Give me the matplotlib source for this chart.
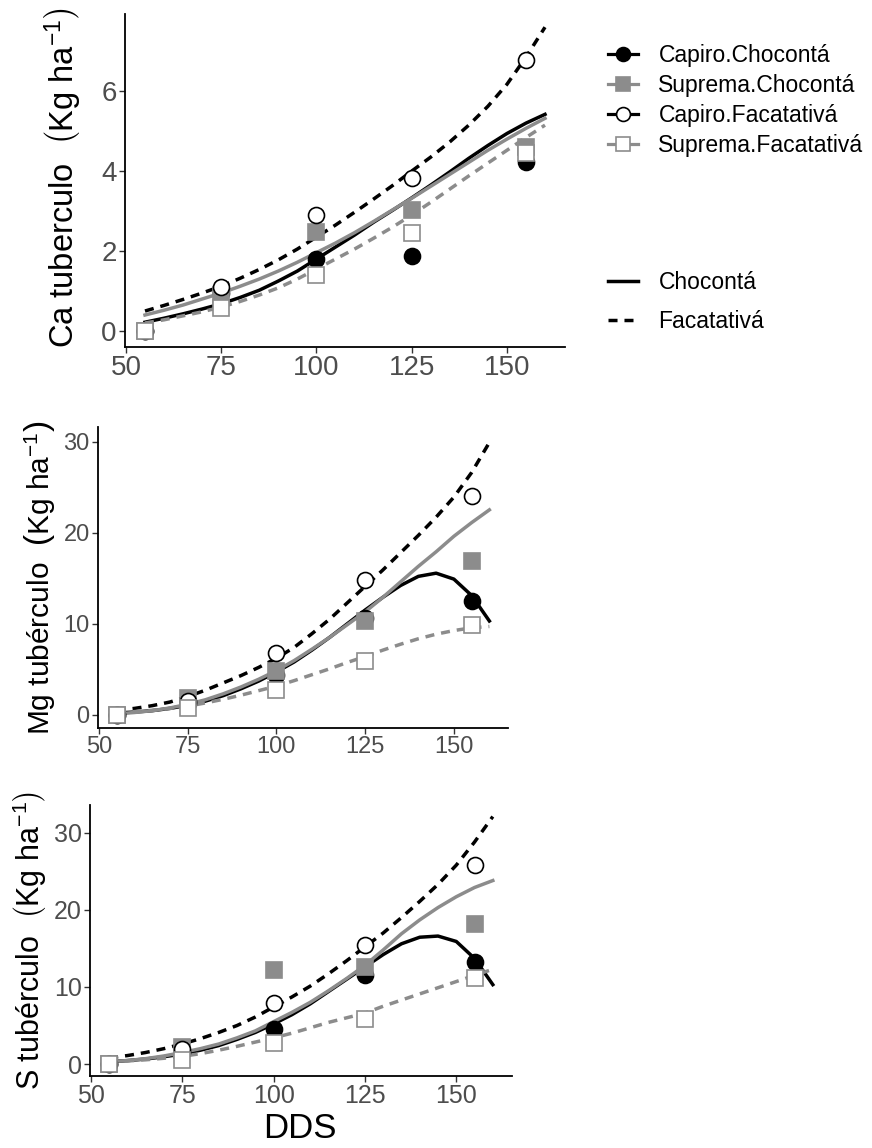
import matplotlib
matplotlib.use('Agg')
import matplotlib.pyplot as plt
from matplotlib.lines import Line2D

plt.rcParams['font.family'] = ['Liberation Sans', 'DejaVu Sans']
plt.rcParams['mathtext.fontset'] = 'custom'
plt.rcParams['mathtext.rm'] = 'Liberation Sans'
plt.rcParams['mathtext.it'] = 'Liberation Sans:italic'

# observed days after sowing and fitted-curve grid
dds = [55, 75, 100, 125, 155]
dds_fit = [55, 60, 65, 70, 75, 80, 85, 90, 95, 100, 105, 110,
           115, 120, 125, 130, 135, 140, 145, 150, 155, 160]

series = ['Capiro.Chocontá', 'Suprema.Chocontá', 'Capiro.Facatativá', 'Suprema.Facatativá']

# --- Ca ---
ca_obs = {
    'Capiro.Chocontá': [0.0, 0.95, 1.8, 1.88, 4.23],
    'Suprema.Chocontá': [0.0, 0.9, 2.48, 3.02, 4.6],
    'Capiro.Facatativá': [0.0, 1.1, 2.9, 3.83, 6.78],
    'Suprema.Facatativá': [0.0, 0.57, 1.4, 2.45, 4.45],
}
ca_fit = {
    'Capiro.Chocontá': [0.22, 0.32, 0.43, 0.55, 0.68, 0.84, 1.02, 1.25, 1.5, 1.8, 2.1,
                        2.4, 2.72, 3.02, 3.33, 3.65, 3.98, 4.32, 4.64, 4.94, 5.2, 5.42],
    'Suprema.Chocontá': [0.4, 0.52, 0.65, 0.8, 0.95, 1.12, 1.3, 1.5, 1.72, 1.96, 2.2,
                         2.46, 2.74, 3.03, 3.32, 3.62, 3.92, 4.22, 4.52, 4.8, 5.07, 5.32],
    'Capiro.Facatativá': [0.5, 0.64, 0.79, 0.95, 1.12, 1.32, 1.54, 1.78, 2.05, 2.35, 2.65,
                          2.97, 3.3, 3.64, 4.0, 4.35, 4.73, 5.15, 5.62, 6.17, 6.85, 7.6],
    'Suprema.Facatativá': [0.2, 0.28, 0.38, 0.48, 0.6, 0.74, 0.9, 1.08, 1.3, 1.55, 1.8,
                           2.05, 2.32, 2.6, 2.9, 3.22, 3.55, 3.88, 4.2, 4.52, 4.84, 5.15],
}

# --- Mg ---
mg_obs = {
    'Capiro.Chocontá': [0.0, 1.3, 4.4, 10.6, 12.45],
    'Suprema.Chocontá': [0.0, 1.8, 4.8, 10.3, 16.85],
    'Capiro.Facatativá': [0.0, 1.5, 6.8, 14.8, 24.0],
    'Suprema.Facatativá': [0.0, 0.8, 2.75, 5.86, 9.9],
}
mg_fit = {
    'Capiro.Chocontá': [0.2, 0.3, 0.45, 0.7, 1.05, 1.5, 2.1, 2.85, 3.7, 4.7, 5.8,
                        7.1, 8.5, 10.0, 11.5, 12.9, 14.2, 15.2, 15.55, 14.9, 13.1, 10.3],
    'Suprema.Chocontá': [0.1, 0.25, 0.45, 0.75, 1.15, 1.65, 2.3, 3.05, 3.9, 4.85, 5.95,
                         7.2, 8.5, 9.9, 11.3, 12.9, 14.6, 16.3, 17.9, 19.6, 21.1, 22.5],
    'Capiro.Facatativá': [0.5, 0.7, 1.0, 1.4, 2.0, 2.7, 3.5, 4.3, 5.2, 6.2, 7.4,
                          8.9, 10.5, 12.3, 14.1, 15.9, 17.8, 19.7, 21.7, 23.9, 26.6, 29.9],
    'Suprema.Facatativá': [0.2, 0.35, 0.5, 0.7, 0.95, 1.3, 1.7, 2.15, 2.65, 3.15, 3.75,
                           4.4, 5.05, 5.75, 6.4, 7.1, 7.75, 8.35, 8.85, 9.25, 9.55, 9.7],
}

# --- S ---
s_obs = {
    'Capiro.Chocontá': [0.0, 1.5, 4.6, 11.55, 13.2],
    'Suprema.Chocontá': [0.0, 2.25, 12.2, 12.6, 18.2],
    'Capiro.Facatativá': [0.0, 2.0, 7.9, 15.45, 25.8],
    'Suprema.Facatativá': [0.0, 0.5, 2.7, 5.9, 11.1],
}
s_fit = {
    'Capiro.Chocontá': [0.3, 0.45, 0.65, 0.95, 1.3, 1.8, 2.4, 3.2, 4.1, 5.2, 6.4,
                        7.8, 9.4, 11.0, 12.6, 14.2, 15.6, 16.45, 16.6, 15.9, 13.7, 10.3],
    'Suprema.Chocontá': [0.3, 0.45, 0.7, 1.05, 1.5, 2.0, 2.6, 3.4, 4.3, 5.5, 6.7,
                         8.0, 9.5, 11.1, 12.8, 14.8, 16.9, 18.7, 20.3, 21.7, 22.9, 23.8],
    'Capiro.Facatativá': [0.8, 1.1, 1.5, 2.0, 2.6, 3.3, 4.1, 5.0, 6.1, 7.4, 8.7,
                          10.1, 11.7, 13.4, 15.2, 17.0, 19.0, 21.1, 23.3, 25.8, 28.8, 32.1],
    'Suprema.Facatativá': [0.3, 0.4, 0.55, 0.75, 1.0, 1.35, 1.8, 2.3, 2.85, 3.4, 4.0,
                           4.7, 5.4, 6.0, 6.6, 7.5, 8.3, 9.1, 9.9, 10.7, 11.5, 12.3],
}

gray = '#8C8C8C'
dash = (0, (2.6, 2.0))
style = {
    'Capiro.Chocontá': dict(color='black', marker='o', mfc='black', mec='black', ls='-'),
    'Suprema.Chocontá': dict(color=gray, marker='s', mfc=gray, mec=gray, ls='-'),
    'Capiro.Facatativá': dict(color='black', marker='o', mfc='white', mec='black', ls=dash),
    'Suprema.Facatativá': dict(color=gray, marker='s', mfc='white', mec=gray, ls=dash),
}

fig = plt.figure(figsize=(8.72, 11.48), dpi=100)
W, H = 872, 1148


def px_axes(left, top, right, bottom):
    return fig.add_axes([left / W, 1 - bottom / H, (right - left) / W, (bottom - top) / H])


panels = [
    (px_axes(125, 14, 565, 347), ca_obs, ca_fit, (-0.4, 7.93), [0, 2, 4, 6], 20,
     'Ca tuberculo', (63, 178), 23.5),
    (px_axes(98, 427, 508, 728), mg_obs, mg_fit, (-1.45, 31.6), [0, 10, 20, 30], 17,
     'Mg tubérculo', (40, 578), 21.5),
    (px_axes(90, 805, 512, 1076), s_obs, s_fit, (-1.55, 33.6), [0, 10, 20, 30], 18,
     'S tubérculo', (30, 941), 22),
]

for ax, obs, fit, ylim, yticks, tsize, name, lpos, lsize in panels:
    for s in series:
        st = style[s]
        ax.plot(dds_fit, fit[s], color=st['color'], ls=st['ls'], lw=2.5, zorder=2)
    for s in series:
        st = style[s]
        ax.plot(dds, obs[s], ls='none', marker=st['marker'], ms=11.5,
                mfc=st['mfc'], mec=st['mec'], mew=1.2, zorder=3)
    ax.set_xlim(49.75, 165.25)
    ax.set_ylim(*ylim)
    ax.set_xticks([50, 75, 100, 125, 150])
    ax.set_yticks(yticks)
    ax.spines['top'].set_visible(False)
    ax.spines['right'].set_visible(False)
    ax.spines['left'].set_linewidth(1.3)
    ax.spines['bottom'].set_linewidth(1.3)
    ax.tick_params(labelsize=tsize, labelcolor='#4D4D4D', color='#333333',
                   length=4, width=1.0, pad=2)
    fig.text(lpos[0] / W, 1 - lpos[1] / H,
             name + r'  $\left(\mathrm{Kg\ ha^{-1}}\right)$',
             rotation=90, ha='center', va='center', fontsize=lsize)

fig.text(300 / W, 1 - 1128 / H, 'DDS', ha='center', va='center', fontsize=25)

# legends
h1 = []
for s in series:
    st = style[s]
    h1.append(Line2D([], [], color=st['color'], lw=2.3, marker=st['marker'], ms=10,
                     mfc=st['mfc'], mec=st['mec'], mew=1.2, label=s))
leg1 = fig.legend(handles=h1, loc='upper left', bbox_to_anchor=(608 / W, 1 - 44 / H),
                  frameon=False, fontsize=16.5, handlelength=1.3, handletextpad=0.9,
                  labelspacing=0.3, borderpad=0, borderaxespad=0)

h2 = [Line2D([], [], color='black', lw=2.5, ls='-', label='Chocontá'),
      Line2D([], [], color='black', lw=2.5, ls=dash, label='Facatativá')]
leg2 = fig.legend(handles=h2, loc='upper left', bbox_to_anchor=(608 / W, 1 - 271 / H),
                  frameon=False, fontsize=16.5, handlelength=1.3, handletextpad=0.9,
                  labelspacing=0.7, borderpad=0, borderaxespad=0)

fig.savefig('out.png', dpi=100)
